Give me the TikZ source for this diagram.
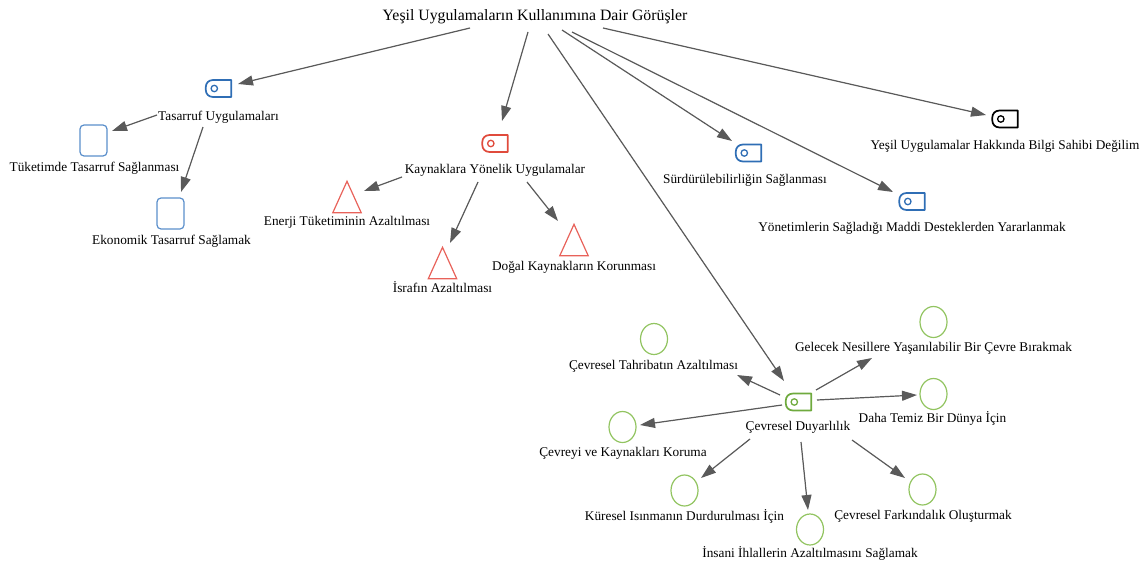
\documentclass[tikz,border=0pt]{standalone}
\usepackage{fontspec}
\setmainfont{Liberation Serif}
\usetikzlibrary{shapes.geometric,calc,arrows.meta}

\definecolor{tagblue}{HTML}{2F6EB5}
\definecolor{sqblue}{HTML}{5B8FCB}
\definecolor{tagred}{HTML}{E04B3C}
\definecolor{trired}{HTML}{E8625A}
\definecolor{taggreen}{HTML}{6FAA3E}
\definecolor{circgreen}{HTML}{92C461}
\definecolor{arrowgray}{HTML}{5A5A5A}

\tikzset{
  lbl/.style={anchor=base, inner sep=0pt, font=\fontsize{13.3pt}{15pt}\selectfont},
  ttl/.style={anchor=base, inner sep=0pt, font=\fontsize{15.8pt}{18pt}\selectfont},
  tagslot/.style={minimum width=25pt, minimum height=16.5pt, inner sep=0pt},
  tagline/.style={draw=#1, line width=1.7pt, line join=round},
  sqbox/.style={draw=sqblue, line width=1.2pt, rounded corners=4pt,
    minimum width=27pt, minimum height=31pt, inner sep=0pt},
  trislot/.style={minimum width=28pt, minimum height=31pt, inner sep=0pt},
  tri/.style={draw=trired, line width=1.2pt, line join=miter},
  circ/.style={ellipse, draw=circgreen, line width=1.2pt,
    minimum width=27pt, minimum height=31pt, inner sep=0pt},
  arr/.style={draw=arrowgray, line width=1.2pt,
    -{Triangle[length=15pt, width=10pt]}, fill=arrowgray},
}

% tag body: square right end, rounded left corners, small ring near the left
\newcommand\tagshape[2]{%
  \draw[tagline=#2] (#1.north east)
    -- ($(#1.north west)+(7,0)$)
    .. controls ($(#1.north west)+(3,0)$) and ($(#1.north west)+(0,3)$) .. ($(#1.north west)+(0,7)$)
    -- ($(#1.south west)+(0,-7)$)
    .. controls ($(#1.south west)+(0,-3)$) and ($(#1.south west)+(3,0)$) .. ($(#1.south west)+(7,0)$)
    -- (#1.south east) -- cycle;
  \draw[draw=#2, line width=1.3pt] ($(#1.west)+(8.5,0)$) circle (3.2pt);}

\begin{document}
\begin{tikzpicture}[x=1pt, y=-1pt]
\useasboundingbox (0,0) rectangle (1145,570);

% root
\node[ttl] (title) at (535,20.5) {Yeşil Uygulamaların Kullanımına Dair Görüşler};

% savings branch
\node[tagslot] (tas) at (218.5,88.5) {}; \tagshape{tas}{tagblue}
\node[lbl] (tasL) at (218.5,120) {Tasarruf Uygulamaları};
\node[sqbox] (tuk) at (93.5,140.5) {};
\node[lbl] (tukL) at (94.5,171.5) {Tüketimde Tasarruf Sağlanması};
\node[sqbox] (eko) at (170.5,213.5) {};
\node[lbl] (ekoL) at (171.5,244.5) {Ekonomik Tasarruf Sağlamak};

% resources branch
\node[tagslot] (kay) at (495,143.5) {}; \tagshape{kay}{tagred}
\node[lbl] (kayL) at (495,173.5) {Kaynaklara Yönelik Uygulamalar};
\node[trislot] (ene) at (347,197) {};
\draw[tri] (ene.north) -- (ene.south east) -- (ene.south west) -- cycle;
\node[lbl] (eneL) at (347,225.5) {Enerji Tüketiminin Azaltılması};
\node[trislot] (isr) at (442.5,263) {};
\draw[tri] (isr.north) -- (isr.south east) -- (isr.south west) -- cycle;
\node[lbl] (isrL) at (442.5,292.5) {İsrafın Azaltılması};
\node[trislot] (dog) at (574,240) {};
\draw[tri] (dog.north) -- (dog.south east) -- (dog.south west) -- cycle;
\node[lbl] (dogL) at (574,270.5) {Doğal Kaynakların Korunması};

% single tags
\node[tagslot] (sur) at (748.5,153) {}; \tagshape{sur}{tagblue}
\node[lbl] (surL) at (745,183.5) {Sürdürülebilirliğin Sağlanması};
\node[tagslot] (bil) at (1005,119) {}; \tagshape{bil}{black}
\node[lbl] (bilL) at (1005,149.5) {Yeşil Uygulamalar Hakkında Bilgi Sahibi Değilim};
\node[tagslot] (yon) at (912,201.5) {}; \tagshape{yon}{tagblue}
\node[lbl] (yonL) at (912,231.5) {Yönetimlerin Sağladığı Maddi Desteklerden Yararlanmak};

% environmental awareness branch
\node[tagslot] (cev) at (798.5,402) {}; \tagshape{cev}{taggreen}
\node[lbl] (cevL) at (798,430) {Çevresel Duyarlılık};
\node[circ] (tah) at (654,339) {};
\node[lbl] (tahL) at (653.5,369.5) {Çevresel Tahribatın Azaltılması};
\node[circ] (gel) at (933.5,322) {};
\node[lbl] (gelL) at (933.5,351.5) {Gelecek Nesillere Yaşanılabilir Bir Çevre Bırakmak};
\node[circ] (dah) at (933.5,394) {};
\node[lbl] (dahL) at (932.5,422.5) {Daha Temiz Bir Dünya İçin};
\node[circ] (cvr) at (622.5,427) {};
\node[lbl] (cvrL) at (623,456.5) {Çevreyi ve Kaynakları Koruma};
\node[circ] (kur) at (684.5,490.5) {};
\node[lbl] (kurL) at (684.5,520.5) {Küresel Isınmanın Durdurulması İçin};
\node[circ] (ins) at (810,529.5) {};
\node[lbl] (insL) at (810,557.5) {İnsani İhlallerin Azaltılmasını Sağlamak};
\node[circ] (far) at (922.5,489.5) {};
\node[lbl] (farL) at (923,519.5) {Çevresel Farkındalık Oluşturmak};

% connectors from the root
\draw[arr] ($(title.base)+(-65,7.5)$) -- ($(tas.center)+(19.5,-4.5)$);
\draw[arr] ($(title.base)+(-7,11.5)$) -- ($(kay.center)+(7,-22.5)$);
\draw[arr] ($(title.base)+(13,13.5)$) -- ($(cev.center)+(-14.5,-21)$);
\draw[arr] ($(title.base)+(27,9.5)$) -- ($(sur.center)+(-16.5,-12)$);
\draw[arr] ($(title.base)+(37,11.5)$) -- ($(yon.center)+(-19,-9.5)$);
\draw[arr] ($(title.base)+(68,7.5)$) -- ($(bil.center)+(-19,-4)$);

% savings children
\draw[arr] ($(tasL.base)+(-61.5,-5)$) -- ($(tuk.center)+(18.5,-9.5)$);
\draw[arr] ($(tasL.base)+(-15.5,7)$) -- ($(eko.center)+(10.5,-21.5)$);

% resources children
\draw[arr] ($(kayL.base)+(-93,3.5)$) -- ($(ene.center)+(17,-6)$);
\draw[arr] ($(kayL.base)+(-17,8.5)$) -- ($(isr.center)+(7.5,-20)$);
\draw[arr] ($(kayL.base)+(32,8.5)$) -- ($(dog.center)+(-16,-19)$);

% awareness children
\draw[arr] ($(cev.center)+(-18.5,-7)$) -- ($(tahL.base)+(83.5,5.5)$);
\draw[arr] ($(cev.center)+(-16.5,3)$) -- ($(cvr.center)+(17.5,-2)$);
\draw[arr] ($(cev.center)+(17.5,-12)$) -- ($(gelL.base)+(-61.5,6.5)$);
\draw[arr] ($(cev.center)+(18.5,-2)$) -- ($(dah.center)+(-16.5,1)$);
\draw[arr] ($(cevL.base)+(-48,9)$) -- ($(kur.center)+(16.5,-12.5)$);
\draw[arr] ($(cevL.base)+(3,12)$) -- ($(ins.center)+(-2,-19.5)$);
\draw[arr] ($(cevL.base)+(54,10)$) -- ($(far.center)+(-17.5,-11.5)$);
\end{tikzpicture}
\end{document}
